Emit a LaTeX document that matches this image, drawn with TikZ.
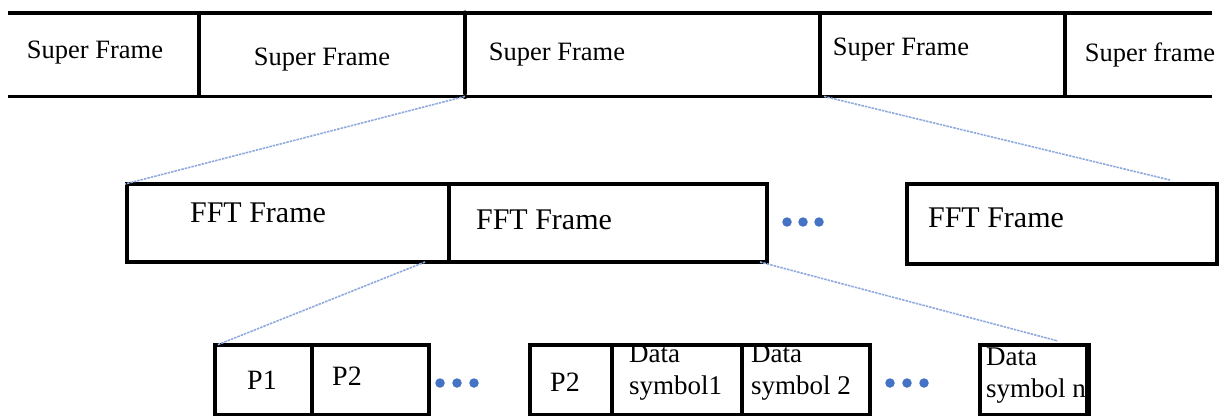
\documentclass[tikz,border=0pt]{standalone}
\usepackage{fontspec}
\setmainfont{Liberation Serif}
\definecolor{dotblue}{HTML}{4472C4}
\definecolor{linkblue}{HTML}{8FAADC}
\begin{document}
\begin{tikzpicture}[x=1pt,y=-1pt,
  heavy/.style={line width=3.8pt},
  boxed/.style={draw,heavy,rectangle,inner sep=0pt,anchor=north west},
  cell/.style={rectangle,inner sep=0pt,anchor=north west},
  sftext/.style={inner sep=0pt,font=\fontsize{26.5}{30}\selectfont},
  ffttext/.style={inner sep=0pt,font=\fontsize{30}{34}\selectfont},
  btext/.style={inner sep=0pt,font=\fontsize{28}{30}\selectfont},
  dtext/.style={inner sep=0pt,font=\fontsize{27}{29}\selectfont,anchor=west},
  link/.style={draw=linkblue,line width=1.6pt,dash pattern=on 2.5pt off 1pt},
  bdot/.style={circle,fill=dotblue,inner sep=0pt,minimum size=9.5pt}]
\useasboundingbox (0,0) rectangle (1223,415);
% top band cells
\node[cell,minimum width=191pt,minimum height=83pt] (sf1) at (8,13) {};
\node[cell,minimum width=266pt,minimum height=83pt] (sf2) at (199,13) {};
\node[cell,minimum width=355pt,minimum height=83pt] (sf3) at (465,13) {};
\node[cell,minimum width=245pt,minimum height=83pt] (sf4) at (820,13) {};
\node[cell,minimum width=147pt,minimum height=83pt] (sf5) at (1065,13) {};
\draw[heavy] (sf1.north west) -- (sf5.north east);
\draw[heavy] (sf1.south west) -- (sf5.south east);
\draw[heavy] (sf2.north west) -- (sf2.south west);
\draw[heavy] ([yshift=-2pt]sf3.north west) -- ([yshift=2pt]sf3.south west);
\fill (sf3.north west) circle (2.6pt);
\fill (sf3.south west) circle (2.6pt);
\draw[heavy] (sf4.north west) -- (sf4.south west);
\draw[heavy] (sf5.north west) -- (sf5.south west);
\node[sftext] (t1) at (95,53) {Super Frame};
\node[sftext] (t2) at (322,60) {Super Frame};
\node[sftext] (t3) at (557,55) {Super Frame};
\node[sftext] (t4) at (901,50) {Super Frame};
\node[sftext] (t5) at (1150,55) {Super frame};
% FFT frames
\node[boxed,minimum width=322pt,minimum height=78pt] (f1) at (125,182) {};
\node[boxed,minimum width=318pt,minimum height=78pt] (f2) at (447,182) {};
\node[boxed,minimum width=310pt,minimum height=80pt] (f3) at (905,182) {};
\node[ffttext] (ft1) at (258,213) {FFT Frame};
\node[ffttext] (ft2) at (544,220) {FFT Frame};
\node[ffttext] (ft3) at (996,218) {FFT Frame};
\node[bdot] (m1) at (787,222) {};
\node[bdot] (m2) at (803,222) {};
\node[bdot] (m3) at (819,222) {};
% bottom row
\node[boxed,minimum width=97pt,minimum height=70pt] (p1) at (213,343) {};
\node[boxed,minimum width=117pt,minimum height=70pt] (p2) at (310,343) {};
\node[boxed,minimum width=82pt,minimum height=70pt] (q2) at (528,343) {};
\node[boxed,minimum width=130pt,minimum height=70pt] (d1) at (610,343) {};
\node[boxed,minimum width=128pt,minimum height=70pt] (d2) at (740,343) {};
\node[boxed,minimum width=107pt,minimum height=70pt] (dn) at (978,343) {};
\node[btext] (lp1) at (262,380) {P1};
\node[btext] (lp2) at (347,376) {P2};
\node[btext] (lq2) at (565,382) {P2};
\node[dtext] (ld1a) at (629,354) {Data};
\node[dtext] (ld1b) at (629,388) {symbol1};
\node[dtext] (ld2a) at (751,354) {Data};
\node[dtext] (ld2b) at (751,388) {symbol 2};
\node[dtext] (ldna) at (986,357) {Data};
\node[dtext] (ldnb) at (986,391) {symbol n};
\draw[heavy] (dn.north east) -- (dn.south east);
\node[bdot] (a1) at (440,383) {};
\node[bdot] (a2) at (457,383) {};
\node[bdot] (a3) at (474,383) {};
\node[bdot] (b1) at (890,383) {};
\node[bdot] (b2) at (907,383) {};
\node[bdot] (b3) at (924,383) {};
% links
\coordinate (c1) at (1170,180);
\coordinate (c2) at (425,262);
\coordinate (c3) at (760,262);
\coordinate (c4) at (1058,341);
\draw[link] (sf3.south west) -- ([yshift=-2pt]f1.north west);
\draw[link] ([xshift=4pt]sf4.south west) -- (c1);
\draw[link] (c2) -- ([yshift=-2pt,xshift=4pt]p1.north west);
\draw[link] (c3) -- (c4);
\end{tikzpicture}
\end{document}
